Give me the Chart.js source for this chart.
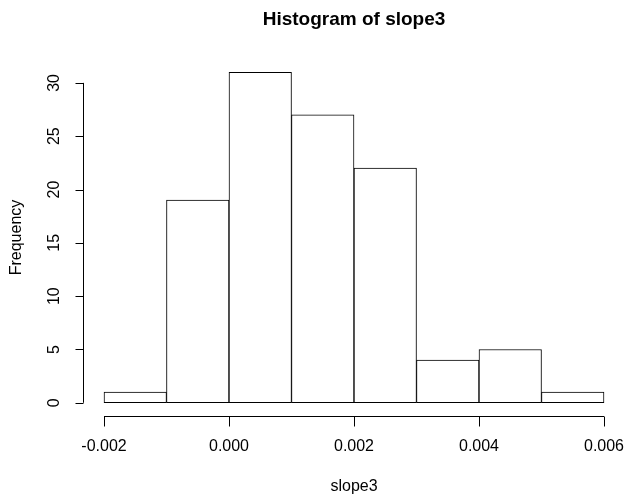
<!DOCTYPE html>
<html>
<head>
<meta charset="utf-8">
<script src="https://cdn.jsdelivr.net/npm/chart.js@4/dist/chart.umd.min.js"></script>
<style>
  html, body { margin: 0; padding: 0; background: #fff; }
  #wrap { width: 626px; height: 500px; }
</style>
</head>
<body>
<div id="wrap"><canvas id="hist" width="626" height="500"></canvas></div>
<script>
// histogram bins (left edges) and counts
const binStarts = [-0.002, -0.001, 0.000, 0.001, 0.002, 0.003, 0.004, 0.005];
const binWidth = 0.001;
const counts = [1, 19, 31, 27, 22, 4, 5, 1];

// axis ticks
const xTicks = [-0.002, 0.000, 0.002, 0.004, 0.006];
const xTickLabels = ['-0.002', '0.000', '0.002', '0.004', '0.006'];
const yTicks = [0, 5, 10, 15, 20, 25, 30];

const titleText = 'Histogram of slope3';
const xLabel = 'slope3';
const yLabel = 'Frequency';

const FONT = '"Liberation Sans", Arial, sans-serif';

// R-style axes, labels and title drawn with the chart's scales
const rAxes = {
  id: 'rAxes',
  afterDraw(chart) {
    const ctx = chart.ctx;
    const xs = chart.scales.x, ys = chart.scales.y;
    const area = chart.chartArea;
    ctx.save();
    ctx.strokeStyle = '#000';
    ctx.fillStyle = '#000';
    ctx.lineWidth = 1;

    // x axis
    const xAxisY = Math.round(area.bottom) + 0.5;
    ctx.beginPath();
    ctx.moveTo(xs.getPixelForValue(xTicks[0]), xAxisY);
    ctx.lineTo(xs.getPixelForValue(xTicks[xTicks.length - 1]), xAxisY);
    xTicks.forEach(v => {
      const px = Math.round(xs.getPixelForValue(v)) + 0.5;
      ctx.moveTo(px, xAxisY);
      ctx.lineTo(px, xAxisY + 10);
    });
    ctx.stroke();
    ctx.font = '16px ' + FONT;
    ctx.textAlign = 'center';
    ctx.textBaseline = 'middle';
    xTicks.forEach((v, i) => {
      ctx.fillText(xTickLabels[i], xs.getPixelForValue(v), xAxisY + 30);
    });

    // y axis
    const yAxisX = Math.round(area.left) - 0.5;
    ctx.beginPath();
    ctx.moveTo(yAxisX, ys.getPixelForValue(yTicks[0]));
    ctx.lineTo(yAxisX, ys.getPixelForValue(yTicks[yTicks.length - 1]));
    yTicks.forEach(v => {
      const py = Math.round(ys.getPixelForValue(v)) + 0.5;
      ctx.moveTo(yAxisX, py);
      ctx.lineTo(yAxisX - 8, py);
    });
    ctx.stroke();
    yTicks.forEach(v => {
      ctx.save();
      ctx.translate(yAxisX - 29, ys.getPixelForValue(v));
      ctx.rotate(-Math.PI / 2);
      ctx.fillText(String(v), 0, 0);
      ctx.restore();
    });

    // axis titles
    const midX = (area.left + area.right) / 2;
    const midY = (area.top + area.bottom) / 2;
    ctx.fillText(xLabel, midX, 487);
    ctx.save();
    ctx.translate(17, midY);
    ctx.rotate(-Math.PI / 2);
    ctx.fillText(yLabel, 0, 0);
    ctx.restore();

    // main title
    ctx.font = 'bold 19px ' + FONT;
    ctx.fillText(titleText, midX, 20);
    ctx.restore();
  }
};

const xPad = (xTicks[xTicks.length - 1] - xTicks[0]) * 0.04;
const yMax = Math.max(...counts);

new Chart(document.getElementById('hist'), {
  type: 'bar',
  data: {
    datasets: [{
      data: binStarts.map((s, i) => ({ x: s + binWidth / 2, y: counts[i] })),
      backgroundColor: '#ffffff',
      borderColor: '#000000',
      borderWidth: 1,
      borderSkipped: false,
      barPercentage: 1,
      categoryPercentage: 1
    }]
  },
  options: {
    responsive: false,
    animation: false,
    layout: { padding: { left: 84, right: 2, top: 59, bottom: 84 } },
    plugins: {
      legend: { display: false },
      title: { display: false },
      tooltip: { enabled: false }
    },
    scales: {
      x: {
        type: 'linear',
        offset: false,
        min: xTicks[0] - xPad,
        max: xTicks[xTicks.length - 1] + xPad,
        display: false
      },
      y: {
        type: 'linear',
        min: -yMax * 0.04,
        max: yMax * 1.04,
        display: false
      }
    }
  },
  plugins: [rAxes]
});
</script>
</body>
</html>
